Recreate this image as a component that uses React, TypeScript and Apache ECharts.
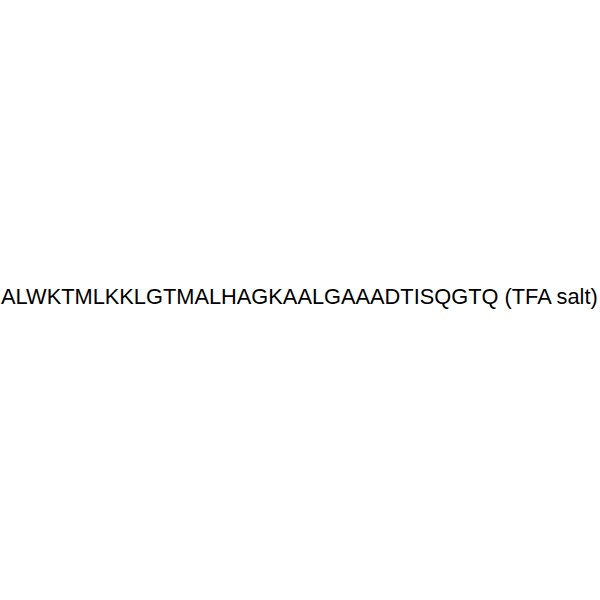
import { useEffect, useRef } from 'react';
import * as echarts from 'echarts';

const labels = ['ALWKTMLKKLGTMALHAGKAALGAAADTISQGTQ (TFA salt)'];

export default function App() {
  const chartRef = useRef<HTMLDivElement>(null);

  useEffect(() => {
    if (!chartRef.current) return;
    document.body.style.margin = '0';
    const chart = echarts.init(chartRef.current, null, { renderer: 'svg' });

    const option: echarts.EChartsOption = {
      animation: false,
      backgroundColor: '#ffffff',
      graphic: labels.map((text) => ({
        type: 'text',
        left: 'center',
        top: 285,
        style: {
          text,
          fill: '#000000',
          font: '21.8px "Liberation Sans", Arial, sans-serif',
        },
      })),
    };

    chart.setOption(option);

    return () => {
      chart.dispose();
    };
  }, []);

  return <div ref={chartRef} style={{ width: 600, height: 600 }} />;
}
